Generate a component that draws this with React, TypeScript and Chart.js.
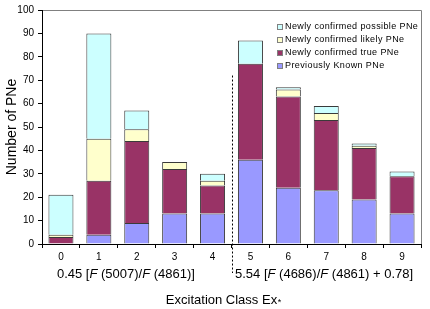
import React, { useEffect, useRef } from "react";
import { Chart, registerables } from "chart.js";

Chart.register(...registerables);

const categories = ["0", "1", "2", "3", "4", "5", "6", "7", "8", "9"];
const previouslyKnown = [0, 4, 9, 13, 13, 36, 24, 23, 19, 13];
const newlyTrue = [3, 23, 35, 19, 12, 41, 39, 30, 22, 16];
const newlyLikely = [1, 18, 5, 3, 2, 0, 3, 3, 1, 0];
const newlyPossible = [17, 45, 8, 0, 3, 10, 1, 3, 1, 2];
const yTicks = [0, 10, 20, 30, 40, 50, 60, 70, 80, 90, 100];
const seriesNames = [
  "Previously Known PNe",
  "Newly confirmed true PNe",
  "Newly confirmed likely PNe",
  "Newly confirmed possible PNe",
];
const leftFormula: [string, boolean][] = [
  ["0.45 [", false],
  ["F", true],
  [" (5007)/", false],
  ["F", true],
  [" (4861)]", false],
];
const rightFormula: [string, boolean][] = [
  ["5.54 [", false],
  ["F", true],
  [" (4686)/", false],
  ["F", true],
  [" (4861) + 0.78]", false],
];
const xTitle = "Excitation Class Ex";
const yTitle = "Number of PNe";

const FONT = '"Liberation Sans", Arial, sans-serif';

function drawRich(ctx: CanvasRenderingContext2D, parts: [string, boolean][], x: number, y: number, size: number) {
  let cx = x;
  for (const [t, it] of parts) {
    ctx.font = `${it ? "italic " : ""}${size}px ${FONT}`;
    ctx.fillText(t, cx, y);
    cx += ctx.measureText(t).width;
  }
}

const decorPlugin = {
  id: "decor",
  beforeDraw(chart: any) {
    const { ctx, chartArea } = chart;
    ctx.save();
    ctx.strokeStyle = "#808080";
    ctx.lineWidth = 1;
    ctx.beginPath();
    ctx.moveTo(chartArea.left, chartArea.top + 0.5);
    ctx.lineTo(chartArea.right + 0.5, chartArea.top + 0.5);
    ctx.lineTo(chartArea.right + 0.5, chartArea.bottom);
    ctx.stroke();
    ctx.restore();
  },
  afterDraw(chart: any) {
    const { ctx, chartArea } = chart;
    const xs = chart.scales.x;
    const ys = chart.scales.y;
    ctx.save();
    // dashed divider
    const dx = Math.round((xs.getPixelForValue(4) + xs.getPixelForValue(5)) / 2) + 0.5;
    ctx.strokeStyle = "#000";
    ctx.lineWidth = 1;
    ctx.setLineDash([2, 2]);
    ctx.beginPath();
    ctx.moveTo(dx, ys.getPixelForValue(72));
    ctx.lineTo(dx, chartArea.bottom + 29);
    ctx.stroke();
    ctx.setLineDash([]);

    // formulas
    ctx.fillStyle = "#000";
    ctx.textBaseline = "middle";
    ctx.textAlign = "left";
    drawRich(ctx, leftFormula, xs.getPixelForValue(0) - 4, chartArea.bottom + 30, 13);
    drawRich(ctx, rightFormula, dx + 2.5, chartArea.bottom + 30, 13);

    // x title
    ctx.font = `13px ${FONT}`;
    const tw = ctx.measureText(xTitle).width;
    const tx = (chartArea.left + chartArea.right) / 2 - 10 - tw / 2;
    ctx.fillText(xTitle, tx, chartArea.bottom + 56);
    ctx.font = `9px ${FONT}`;
    ctx.fillText("*", tx + tw + 0.5, chartArea.bottom + 59);

    // y title
    ctx.save();
    ctx.translate(12, (chartArea.top + chartArea.bottom) / 2);
    ctx.rotate(-Math.PI / 2);
    ctx.textAlign = "center";
    ctx.font = `14px ${FONT}`;
    ctx.fillText(yTitle, 0, 0);
    ctx.restore();

    // legend
    const ds = chart.data.datasets;
    ctx.font = `9px ${FONT}`;
    (ctx as any).letterSpacing = "0.4px";
    ctx.textBaseline = "middle";
    for (let i = 0; i < ds.length; i++) {
      const d = ds[ds.length - 1 - i];
      const y0 = chartArea.top + 14 + i * 13;
      ctx.fillStyle = d.backgroundColor;
      ctx.fillRect(chartArea.left + 235, y0, 6, 6);
      ctx.strokeStyle = "#808080";
      ctx.strokeRect(chartArea.left + 235 + 0.5, y0 + 0.5, 5, 5);
      ctx.fillStyle = "#000";
      ctx.fillText(d.label, chartArea.left + 243, y0 + 3);
    }
    ctx.restore();
  },
};

export default function App() {
  const ref = useRef<HTMLCanvasElement | null>(null);
  useEffect(() => {
    if (!ref.current) return;
    const colors = ["#9999FF", "#993366", "#FFFFCC", "#CCFFFF"];
    const values = [previouslyKnown, newlyTrue, newlyLikely, newlyPossible];
    const chart = new Chart(ref.current, {
      type: "bar",
      data: {
        labels: categories,
        datasets: values.map((v, i) => ({
          label: seriesNames[i],
          data: v,
          backgroundColor: colors[i],
          borderColor: "#3a3a3a",
          borderWidth: 1,
          borderSkipped: "start",
          categoryPercentage: 1,
          barPercentage: 0.66,
        })),
      },
      options: {
        animation: false,
        responsive: true,
        maintainAspectRatio: false,
        devicePixelRatio: 1,
        layout: { padding: { top: 6, right: 9, left: 0, bottom: 0 } },
        plugins: { legend: { display: false }, tooltip: { enabled: false } },
        scales: {
          x: {
            stacked: true,
            afterFit: (s: any) => {
              s.height = 65;
            },
            grid: { offset: true, drawOnChartArea: false, tickLength: 4, color: "#000" },
            border: { display: true, color: "#000" },
            ticks: { color: "#000", font: { family: FONT, size: 10 }, padding: 3, maxRotation: 0 },
          },
          y: {
            stacked: true,
            min: 0,
            max: 100,
            afterFit: (s: any) => {
              s.width = 42;
            },
            afterBuildTicks: (s: any) => {
              s.ticks = yTicks.map((v) => ({ value: v }));
            },
            grid: { drawOnChartArea: false, tickLength: 4, color: "#000" },
            border: { display: true, color: "#000" },
            ticks: { color: "#000", font: { family: FONT, size: 10 }, padding: 4 },
          },
        },
      },
      plugins: [decorPlugin],
    });
    return () => chart.destroy();
  }, []);
  return (
    <div style={{ position: "fixed", left: 0, top: 0, width: 430, height: 309, background: "#fff" }}>
      <canvas ref={ref} />
    </div>
  );
}
